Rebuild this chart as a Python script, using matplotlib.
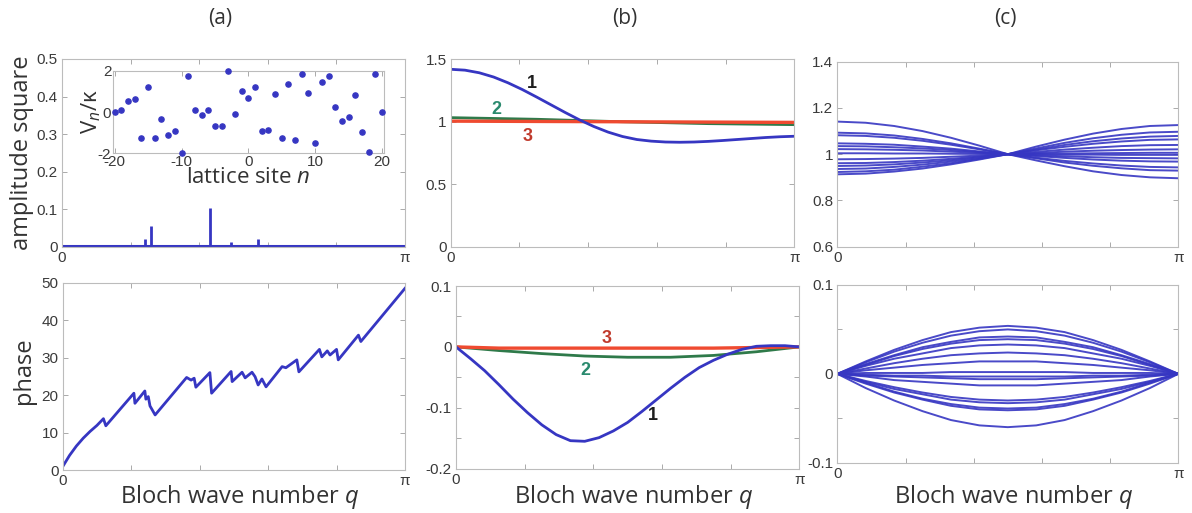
import numpy as np
import matplotlib
matplotlib.use("Agg")
import matplotlib.pyplot as plt

plt.rcParams['font.family'] = ['Liberation Sans', 'DejaVu Sans']
plt.rcParams['mathtext.fontset'] = 'custom'
plt.rcParams['mathtext.rm'] = 'Open Sans'
plt.rcParams['mathtext.it'] = 'Open Sans:italic'

# ---------------- data ----------------
# inset: on-site potential V_n / kappa
sites = list(range(-20, 21))
potential = [0.00, 0.10, 0.53, 0.61, -1.26, 1.22, -1.26, -0.36, -1.09, -0.94,
             -2.00, 1.74, 0.08, -0.15, 0.10, -0.66, -0.69, 2.00, -0.10, 1.01,
             0.69, 1.21, -0.93, -0.89, 0.88, -1.27, 1.36, -1.36, 1.83, 0.91,
             -1.50, 1.44, 1.75, 0.25, -0.43, -0.25, 0.81, -0.98, -1.92, 1.82, 0.00]

# (a) amplitude square: narrow peaks (q in units of pi)
peak_q = [0.243, 0.259, 0.432, 0.493, 0.570]
peak_amp = [0.020, 0.056, 0.104, 0.013, 0.022]
amp_floor = 0.002

# (a) phase (q in units of pi)
phase_q = [0.000, 0.020, 0.040, 0.060, 0.080, 0.100, 0.119, 0.126, 0.208, 0.211,
           0.240, 0.243, 0.250, 0.255, 0.270, 0.362, 0.375, 0.384, 0.389, 0.430,
           0.435, 0.492, 0.495, 0.524, 0.533, 0.553, 0.562, 0.571, 0.582, 0.594,
           0.641, 0.652, 0.684, 0.690, 0.750, 0.757, 0.773, 0.781, 0.800, 0.805,
           0.864, 0.871, 1.000]
phase_val = [0.9, 3.9, 6.4, 8.5, 10.3, 11.9, 13.7, 11.8, 20.5, 17.8,
             21.1, 18.9, 19.6, 17.1, 14.7, 24.7, 24.0, 24.5, 22.1, 26.0,
             20.5, 26.3, 23.6, 26.1, 24.6, 26.1, 24.9, 22.7, 24.3, 22.2,
             27.6, 27.3, 29.4, 26.2, 32.2, 30.2, 31.8, 30.7, 32.2, 29.4,
             36.0, 34.3, 48.5]

# (b) curves 1-3 (q in units of pi)
b_q24 = [i / 24 for i in range(25)]
b_amp1 = [1.420, 1.413, 1.392, 1.358, 1.312, 1.258, 1.198, 1.136, 1.074, 1.015,
          0.962, 0.917, 0.882, 0.858, 0.845, 0.838, 0.836, 0.838, 0.843, 0.850,
          0.858, 0.866, 0.874, 0.880, 0.884]
b_q2 = [0.0, 0.25, 0.5, 0.75, 1.0]
b_amp2 = [1.033, 1.020, 1.000, 0.985, 0.977]
b_q3 = [0.0, 0.5, 1.0]
b_amp3 = [1.005, 1.000, 0.995]

b_phase1 = [0.0, -0.019, -0.039, -0.062, -0.086, -0.108, -0.128, -0.144, -0.154, -0.155,
            -0.149, -0.138, -0.124, -0.106, -0.087, -0.068, -0.050, -0.034, -0.022, -0.012,
            -0.004, 0.001, 0.002, 0.002, 0.0]
b_q8 = [i / 8 for i in range(9)]
b_phase2 = [0.0, -0.006, -0.011, -0.015, -0.017, -0.017, -0.014, -0.008, 0.0]
b_phase3 = [0.0, -0.002, -0.002, -0.002, -0.002, -0.002, -0.002, -0.001, 0.0]

# (c) family of modes (q in units of pi)
c_q = [i / 12 for i in range(13)]
c_amp = [
    [1.141, 1.136, 1.122, 1.100, 1.071, 1.037, 1.000, 0.973, 0.948, 0.926, 0.910, 0.900, 0.896],
    [1.093, 1.090, 1.081, 1.066, 1.047, 1.024, 1.000, 0.982, 0.964, 0.950, 0.939, 0.931, 0.929],
    [1.082, 1.079, 1.071, 1.058, 1.041, 1.021, 1.000, 0.985, 0.971, 0.960, 0.951, 0.945, 0.943],
    [1.047, 1.045, 1.041, 1.033, 1.024, 1.012, 1.000, 0.992, 0.984, 0.977, 0.972, 0.969, 0.968],
    [1.035, 1.034, 1.030, 1.025, 1.018, 1.009, 1.000, 0.995, 0.991, 0.987, 0.984, 0.983, 0.982],
    [1.022, 1.021, 1.019, 1.016, 1.011, 1.006, 1.000, 0.999, 0.998, 0.998, 0.997, 0.997, 0.997],
    [1.004, 1.004, 1.003, 1.003, 1.002, 1.001, 1.000, 1.002, 1.003, 1.004, 1.005, 1.006, 1.006],
    [0.978, 0.979, 0.981, 0.984, 0.989, 0.994, 1.000, 1.005, 1.011, 1.015, 1.018, 1.020, 1.021],
    [0.961, 0.962, 0.966, 0.972, 0.980, 0.990, 1.000, 1.010, 1.020, 1.028, 1.035, 1.039, 1.040],
    [0.949, 0.951, 0.956, 0.964, 0.974, 0.987, 1.000, 1.017, 1.032, 1.045, 1.055, 1.062, 1.064],
    [0.936, 0.938, 0.945, 0.955, 0.968, 0.983, 1.000, 1.020, 1.040, 1.056, 1.068, 1.076, 1.079],
    [0.923, 0.926, 0.933, 0.946, 0.961, 0.980, 1.000, 1.025, 1.049, 1.069, 1.084, 1.094, 1.097],
    [0.913, 0.916, 0.925, 0.938, 0.956, 0.977, 1.000, 1.033, 1.063, 1.089, 1.109, 1.122, 1.126],
]
c_phase = [
    [0, 0.014, 0.027, 0.038, 0.047, 0.052, 0.054, 0.052, 0.047, 0.038, 0.027, 0.014, 0],
    [0, 0.013, 0.025, 0.035, 0.043, 0.048, 0.050, 0.048, 0.043, 0.035, 0.025, 0.013, 0],
    [0, 0.011, 0.021, 0.030, 0.036, 0.041, 0.042, 0.041, 0.036, 0.030, 0.021, 0.011, 0],
    [0, 0.010, 0.020, 0.028, 0.034, 0.038, 0.039, 0.038, 0.034, 0.028, 0.020, 0.010, 0],
    [0, 0.009, 0.017, 0.023, 0.029, 0.032, 0.033, 0.032, 0.029, 0.023, 0.017, 0.009, 0],
    [0, 0.006, 0.012, 0.017, 0.021, 0.023, 0.024, 0.023, 0.021, 0.017, 0.012, 0.006, 0],
    [0, 0.004, 0.007, 0.010, 0.012, 0.014, 0.014, 0.014, 0.012, 0.010, 0.007, 0.004, 0],
    [0, 0.001, 0.001, 0.001, 0.002, 0.002, 0.002, 0.002, 0.002, 0.001, 0.001, 0.001, 0],
    [0, -0.001, -0.002, -0.002, -0.003, -0.003, -0.003, -0.003, -0.003, -0.002, -0.002, -0.001, 0],
    [0, -0.002, -0.003, -0.004, -0.005, -0.006, -0.006, -0.006, -0.005, -0.004, -0.003, -0.002, 0],
    [0, -0.003, -0.007, -0.009, -0.011, -0.013, -0.013, -0.013, -0.011, -0.009, -0.007, -0.003, 0],
    [0, -0.008, -0.015, -0.021, -0.026, -0.029, -0.030, -0.029, -0.026, -0.021, -0.015, -0.008, 0],
    [0, -0.009, -0.017, -0.023, -0.029, -0.032, -0.033, -0.032, -0.029, -0.023, -0.017, -0.009, 0],
    [0, -0.010, -0.020, -0.028, -0.034, -0.038, -0.039, -0.038, -0.034, -0.028, -0.020, -0.010, 0],
    [0, -0.011, -0.021, -0.029, -0.036, -0.040, -0.041, -0.040, -0.036, -0.029, -0.021, -0.011, 0],
    [0, -0.016, -0.030, -0.042, -0.052, -0.058, -0.060, -0.058, -0.052, -0.042, -0.030, -0.016, 0],
]

# ---------------- styling ----------------
BLUE = '#3636c2'
GREEN = '#2f7a4a'
RED = '#ef4a30'
LABEL_FONT = 'Open Sans'
TEXT_COL = '#333333'

W, H = 1192, 513
fig = plt.figure(figsize=(W / 100, H / 100), dpi=100)


def box(x0, y0, x1, y1):
    return [x0 / W, 1 - y1 / H, (x1 - x0) / W, (y1 - y0) / H]


def pi_axis(ax):
    ax.set_xlim(0, np.pi)
    ax.set_xticks(np.linspace(0, np.pi, 6))
    ax.set_xticklabels(['0', '', '', '', '', 'π'])


def style(ax):
    for s in ax.spines.values():
        s.set_color('#bcbcbc')
        s.set_linewidth(0.8)
    ax.tick_params(direction='in', top=True, right=True, length=3.5, width=0.7,
                   color='#aaaaaa', labelcolor='#3a3a3a', labelsize=11, pad=3)


def qs(fracs):
    return np.pi * np.asarray(fracs)


def xlabel_at(xc):
    fig.text(xc / W, 1 - 503 / H, 'Bloch wave number $q$', ha='center', va='baseline',
             fontsize=17, family=LABEL_FONT, color=TEXT_COL)


def ylabel_at(xc, yc, s):
    fig.text(xc / W, 1 - yc / H, s, rotation=90, ha='center', va='center',
             fontsize=17, family=LABEL_FONT, color=TEXT_COL)


def num_label(ax, qf, y, s, col):
    ax.text(np.pi * qf, y, s, color=col, fontsize=13, fontweight='bold',
            ha='center', va='center')


# ---- (a) top: amplitude square ----
ax = fig.add_axes(box(62, 59, 405, 247))
style(ax)
pi_axis(ax)
ax.set_ylim(0, 0.5)
ax.set_yticks([0, 0.1, 0.2, 0.3, 0.4, 0.5])
ax.set_yticklabels(['0', '0.1', '0.2', '0.3', '0.4', '0.5'])
ax.plot([0, np.pi], [amp_floor, amp_floor], color=BLUE, lw=2.2, solid_capstyle='butt')
ax.vlines(qs(peak_q), 0, peak_amp, color=BLUE, lw=2.0)
ylabel_at(22, 153, 'amplitude square')

# inset: disorder potential
axi = fig.add_axes(box(112.7, 70.7, 384, 153.3))
style(axi)
axi.set_facecolor('white')
axi.scatter(sites, potential, s=14, color=BLUE, zorder=3, clip_on=False)
axi.set_xlim(-20.3, 20.3)
axi.set_ylim(-2, 2)
axi.set_xticks([-20, -10, 0, 10, 20])
axi.set_xticklabels(['-20', '-10', '0', '10', '20'])
axi.set_yticks([-2, 0, 2])
axi.set_yticklabels(['-2', '0', '2'])
axi.tick_params(labelsize=11, pad=1)
axi.set_xlabel('lattice site $n$', fontsize=16, family=LABEL_FONT, color=TEXT_COL, labelpad=-1)
axi.set_ylabel('V$_{n}$/κ', fontsize=16, family=LABEL_FONT, color=TEXT_COL, labelpad=-4)

# ---- (a) bottom: phase ----
ax = fig.add_axes(box(62.7, 282.7, 405, 470))
style(ax)
pi_axis(ax)
ax.set_ylim(0, 50)
ax.set_yticks([0, 10, 20, 30, 40, 50])
ax.plot(qs(phase_q), phase_val, color=BLUE, lw=2.0)
xlabel_at(240)
ylabel_at(24, 371, 'phase')

# ---- (b) top ----
ax = fig.add_axes(box(450.7, 59.3, 794.3, 246.7))
style(ax)
pi_axis(ax)
ax.set_ylim(0, 1.5)
ax.set_yticks([0, 0.5, 1, 1.5])
ax.set_yticklabels(['0', '0.5', '1', '1.5'])
ax.plot(qs(b_q2), b_amp2, color=GREEN, lw=2.0)
ax.plot(qs(b_q3), b_amp3, color=RED, lw=2.4)
ax.plot(qs(b_q24), b_amp1, color=BLUE, lw=2.0)
num_label(ax, 0.236, 1.31, '1', '#1e1e1e')
num_label(ax, 0.134, 1.10, '2', '#2a8a6e')
num_label(ax, 0.225, 0.886, '3', '#c0392b')

# ---- (b) bottom ----
ax = fig.add_axes(box(456, 286, 799.3, 468.7))
style(ax)
pi_axis(ax)
ax.set_ylim(-0.2, 0.1)
ax.set_yticks([-0.2, -0.15, -0.1, -0.05, 0, 0.05, 0.1])
ax.set_yticklabels(['-0.2', '', '-0.1', '', '0', '', '0.1'])
ax.plot(qs(b_q8), b_phase2, color=GREEN, lw=2.0)
ax.plot(qs(b_q8), b_phase3, color=RED, lw=2.4)
ax.plot(qs(b_q24), b_phase1, color=BLUE, lw=2.0)
num_label(ax, 0.439, 0.014, '3', '#c0392b')
num_label(ax, 0.376, -0.038, '2', '#2a8a6e')
num_label(ax, 0.574, -0.112, '1', '#1e1e1e')
xlabel_at(634)

# ---- (c) top ----
ax = fig.add_axes(box(837.3, 61.7, 1178.3, 246.7))
style(ax)
pi_axis(ax)
ax.set_ylim(0.6, 1.4)
ax.set_yticks([0.6, 0.8, 1.0, 1.2, 1.4])
ax.set_yticklabels(['0.6', '0.8', '1', '1.2', '1.4'])
for row in c_amp:
    ax.plot(qs(c_q), row, color=BLUE, lw=1.4, alpha=0.9)

# ---- (c) bottom ----
ax = fig.add_axes(box(837.3, 285, 1178.3, 462.7))
style(ax)
pi_axis(ax)
ax.set_ylim(-0.1, 0.1)
ax.set_yticks([-0.1, -0.05, 0, 0.05, 0.1])
ax.set_yticklabels(['-0.1', '', '0', '', '0.1'])
for row in c_phase:
    ax.plot(qs(c_q), row, color=BLUE, lw=1.4, alpha=0.9)
xlabel_at(1014)

# panel letters
for x, lab in [(220, '(a)'), (625, '(b)'), (1005, '(c)')]:
    fig.text(x / W, 1 - 19 / H, lab, ha='center', va='center', fontsize=15,
             family=LABEL_FONT, color=TEXT_COL)

fig.savefig('out.png', dpi=100)
